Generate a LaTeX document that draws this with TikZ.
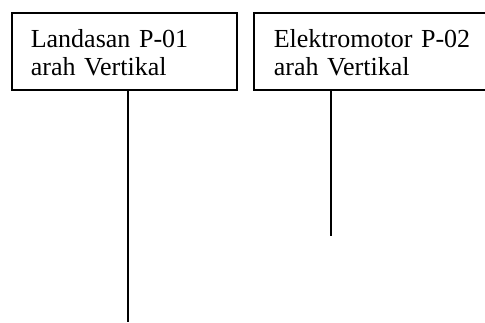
\documentclass[tikz,border=0pt]{standalone}
\usepackage{fontspec}
\setmainfont{Liberation Serif}
\begin{document}
\begin{tikzpicture}[x=1pt,y=-1pt,
  box/.style={draw, line width=1.6pt, align=left, font=\fontsize{26}{28}\selectfont,
    minimum height=77pt, inner ysep=0pt, anchor=north west},
  link/.style={line width=1.6pt}]
\useasboundingbox (0,0) rectangle (485,322);
\clip (0,0) rectangle (485,322);
\node[box, text width=187pt, inner xsep=19pt] (b1) at (11,12)
  {\rule{0pt}{21pt}Landasan P-01\\arah Vertikal};
\node[box, text width=220pt, inner xsep=20pt] (b2) at (253,12)
  {\rule{0pt}{21pt}Elektromotor P-02\\arah Vertikal};
\coordinate (e1) at (128,322);
\coordinate (e2) at (331,236);
\draw[link] (b1.south -| e1) -- (e1);
\draw[link] (b2.south -| e2) -- (e2);
\end{tikzpicture}
\end{document}
